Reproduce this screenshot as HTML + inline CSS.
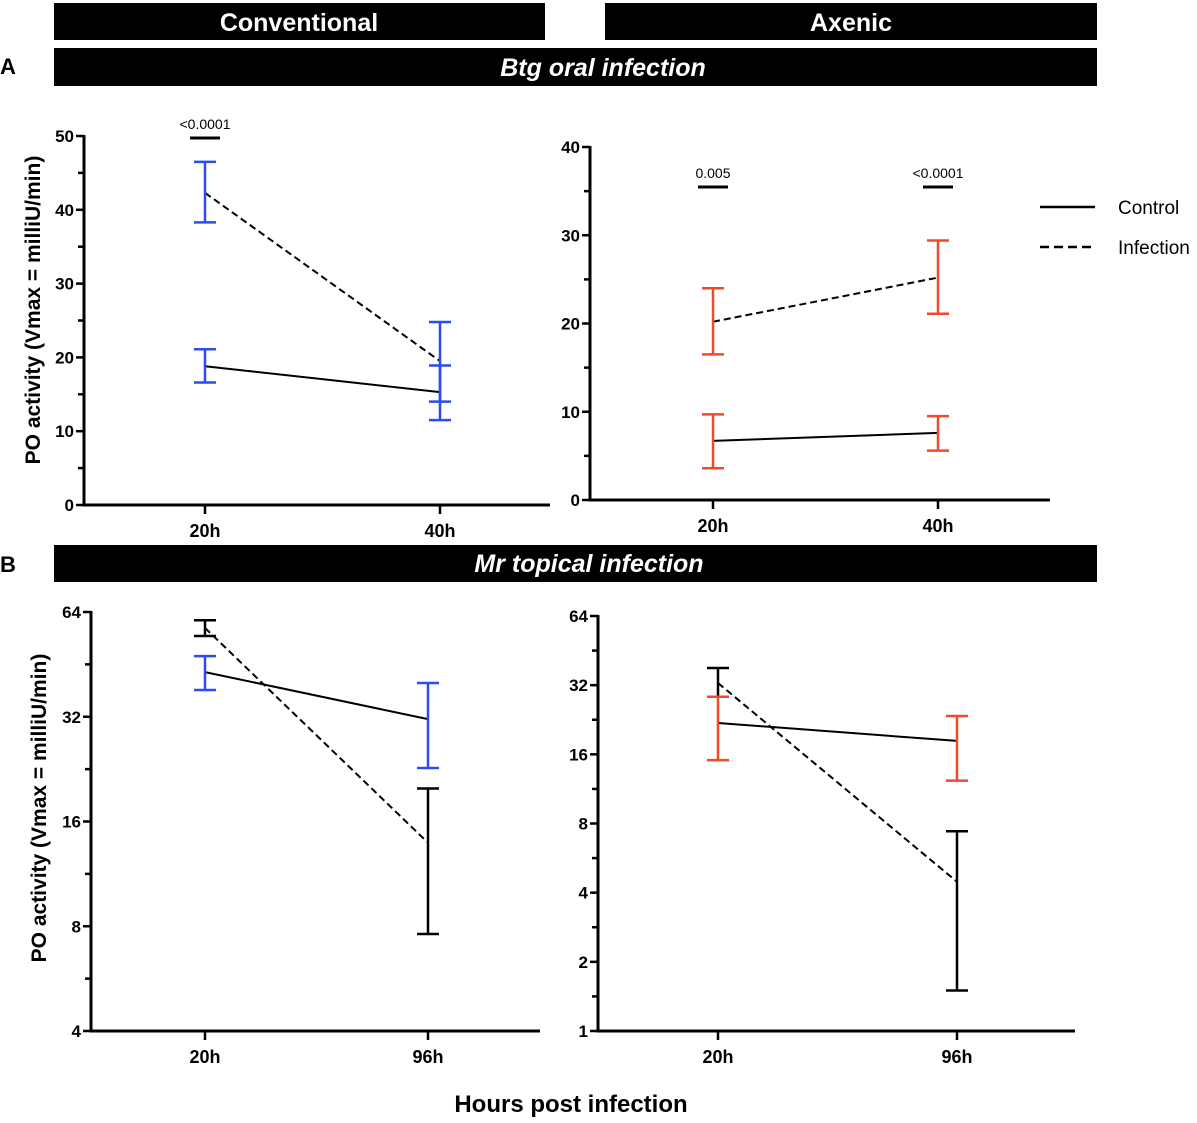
<!DOCTYPE html>
<html><head><meta charset="utf-8"><style>
body{margin:0;background:#fff;}
svg{display:block;font-family:"Liberation Sans",Arial,sans-serif;}
</style></head><body>
<svg id="fig" width="1197" height="1123" viewBox="0 0 1197 1123" xmlns="http://www.w3.org/2000/svg">
<g>
<rect x="54" y="3" width="491" height="37" fill="#000"/>
<text x="299" y="31" fill="#fff" font-size="25" font-weight="bold" text-anchor="middle">Conventional</text>
<rect x="605" y="3" width="492" height="37" fill="#000"/>
<text x="851" y="31" fill="#fff" font-size="25" font-weight="bold" text-anchor="middle">Axenic</text>
<rect x="54" y="48" width="1043" height="38" fill="#000"/>
<text x="603" y="76" fill="#fff" font-size="25" font-weight="bold" font-style="italic" text-anchor="middle">Btg oral infection</text>
<rect x="54" y="545" width="1043" height="37" fill="#000"/>
<text x="589" y="572" fill="#fff" font-size="25" font-weight="bold" font-style="italic" text-anchor="middle">Mr topical infection</text>
<text x="0" y="74" font-size="22" font-weight="bold">A</text>
<text x="0" y="572" font-size="22" font-weight="bold">B</text>
<text x="571" y="1112" font-size="24" font-weight="bold" text-anchor="middle">Hours post infection</text>
<text transform="translate(40,310) rotate(-90)" font-size="21" font-weight="bold" text-anchor="middle">PO activity (Vmax = milliU/min)</text>
<text transform="translate(46,808) rotate(-90)" font-size="21" font-weight="bold" text-anchor="middle">PO activity (Vmax = milliU/min)</text>
</g>
<g>
<line x1="1040" y1="207" x2="1095" y2="207" stroke="#000" stroke-width="2.5"/>
<text x="1118" y="214" font-size="19">Control</text>
<line x1="1040" y1="247" x2="1095" y2="247" stroke="#000" stroke-width="2.5" stroke-dasharray="9,5"/>
<text x="1118" y="254" font-size="19">Infection</text>
</g>
</svg>
<script>
// Panel A conventional
const aConvCats = ["20h","40h"];
const aConvCtrl = [18.8, 15.3];
const aConvCtrlLo = [16.6, 11.5];
const aConvCtrlHi = [21.1, 18.9];
const aConvInf = [42.3, 19.5];
const aConvInfLo = [38.3, 14.0];
const aConvInfHi = [46.5, 24.8];
const aConvTicks = [0,10,20,30,40,50];
// Panel A axenic
const aAxCats = ["20h","40h"];
const aAxCtrl = [6.7, 7.6];
const aAxCtrlLo = [3.6, 5.6];
const aAxCtrlHi = [9.7, 9.5];
const aAxInf = [20.2, 25.2];
const aAxInfLo = [16.5, 21.1];
const aAxInfHi = [24.0, 29.4];
const aAxTicks = [0,10,20,30,40];
// Panel B conventional
const bConvCats = ["20h","96h"];
const bConvCtrl = [43, 31.5];
const bConvCtrlLo = [38.2, 22.8];
const bConvCtrlHi = [47.8, 40];
const bConvInf = [57.6, 13.9];
const bConvInfLo = [54.6, 7.6];
const bConvInfHi = [60.6, 19.9];
const bConvTicks = [4,8,16,32,64];
// Panel B axenic
const bAxCats = ["20h","96h"];
const bAxCtrl = [21.9, 18.3];
const bAxCtrlLo = [15.1, 12.3];
const bAxCtrlHi = [28.5, 23.5];
const bAxInf = [32.7, 4.46];
const bAxInfLo = [28.5, 1.5];
const bAxInfHi = [38, 7.4];
const bAxTicks = [1,2,4,8,16,32,64];

const NS = "http://www.w3.org/2000/svg";
const fig = document.getElementById('fig');
function mk(tag, attrs, parent){const e=document.createElementNS(NS,tag);for(const k in attrs)e.setAttribute(k,attrs[k]);(parent||fig).appendChild(e);return e;}

function panel(cfg){
  const g = mk('g',{});
  
  
  const lo=cfg.ticks[0], hi=cfg.ticks[cfg.ticks.length-1];
  const y = cfg.log ? v => cfg.y0 - (Math.log2(v)-Math.log2(lo))/(Math.log2(hi)-Math.log2(lo))*(cfg.y0-cfg.y1)
                    : v => cfg.y0 - (v-lo)/(hi-lo)*(cfg.y0-cfg.y1);
  const x = i => cfg.xs[i];
  const ax = mk('line',{x1:cfg.ax,y1:cfg.y1-1,x2:cfg.ax,y2:cfg.y0+1.5,stroke:'#000','stroke-width':3},g);
  
  
  const bx = mk('line',{x1:cfg.ax-1.5,y1:cfg.y0,x2:cfg.xend,y2:cfg.y0,stroke:'#000','stroke-width':3},g);
  
  
  cfg.ticks.forEach((t,i)=>{
    mk('line',{x1:cfg.ax-8,y1:y(t),x2:cfg.ax,y2:y(t),stroke:'#000','stroke-width':2.5},g);
    const tl = mk('text',{x:cfg.ax-10,y:y(t)+6,'font-size':17,'font-weight':'bold','text-anchor':'end'},g);
    tl.textContent=t;
    
    
    if(i<cfg.ticks.length-1){
      const m = cfg.log ? Math.sqrt(t*cfg.ticks[i+1]) : (t+cfg.ticks[i+1])/2;
      mk('line',{x1:cfg.ax-6,y1:y(m),x2:cfg.ax,y2:y(m),stroke:'#000','stroke-width':2.5},g);
    }
  });
  cfg.cats.forEach((c,i)=>{
    mk('line',{x1:x(i),y1:cfg.y0,x2:x(i),y2:cfg.y0+9,stroke:'#000','stroke-width':2.5},g);
    const tl = mk('text',{x:x(i),y:cfg.y0+32,'font-size':18,'font-weight':'bold','text-anchor':'middle'},g);
    tl.textContent=c;
    
    
  });
  function series(vals,los,his,dash,errCol,name){
    const l = mk('line',{x1:x(0),y1:y(vals[0]),x2:x(1),y2:y(vals[1]),stroke:'#000','stroke-width':2}, g);
    if(dash) l.setAttribute('stroke-dasharray','7,4');
    
    
    vals.forEach((v,i)=>{
      const col = errCol[i];
      const eb = mk('g',{stroke:col,'stroke-width':2.5},g);
      
      
      mk('line',{x1:x(i),y1:y(los[i]),x2:x(i),y2:y(his[i])},eb);
      mk('line',{x1:x(i)-11,y1:y(los[i]),x2:x(i)+11,y2:y(los[i])},eb);
      mk('line',{x1:x(i)-11,y1:y(his[i]),x2:x(i)+11,y2:y(his[i])},eb);
    });
  }
  series(cfg.inf,cfg.infLo,cfg.infHi,true,cfg.infCol,'infection');
  series(cfg.ctrl,cfg.ctrlLo,cfg.ctrlHi,false,cfg.ctrlCol,'control');
  (cfg.sig||[]).forEach(s=>{
    mk('line',{x1:x(s.i)-15,y1:s.y,x2:x(s.i)+15,y2:s.y,stroke:'#000','stroke-width':3},g);
    const t = mk('text',{x:x(s.i),y:s.y-9,'font-size':14,'text-anchor':'middle'},g);
    t.textContent=s.label;
    
    
  });
}
const B='#2b4cf0', R='#f04a2b', K='#000';
panel({name:'panel-a-conventional',ax:84,y0:505,y1:136,xend:550,xs:[205,440],ticks:aConvTicks,log:false,cats:aConvCats,
  ctrl:aConvCtrl,ctrlLo:aConvCtrlLo,ctrlHi:aConvCtrlHi,inf:aConvInf,infLo:aConvInfLo,infHi:aConvInfHi,
  ctrlCol:[B,B],infCol:[B,B],sig:[{i:0,y:138,label:'<0.0001'}]});
panel({name:'panel-a-axenic',ax:590,y0:500,y1:147,xend:1050,xs:[713,938],ticks:aAxTicks,log:false,cats:aAxCats,
  ctrl:aAxCtrl,ctrlLo:aAxCtrlLo,ctrlHi:aAxCtrlHi,inf:aAxInf,infLo:aAxInfLo,infHi:aAxInfHi,
  ctrlCol:[R,R],infCol:[R,R],sig:[{i:0,y:187,label:'0.005'},{i:1,y:187,label:'<0.0001'}]});
panel({name:'panel-b-conventional',ax:91,y0:1031,y1:612,xend:540,xs:[205,428],ticks:bConvTicks,log:true,cats:bConvCats,
  ctrl:bConvCtrl,ctrlLo:bConvCtrlLo,ctrlHi:bConvCtrlHi,inf:bConvInf,infLo:bConvInfLo,infHi:bConvInfHi,
  ctrlCol:[B,B],infCol:[K,K]});
panel({name:'panel-b-axenic',ax:598,y0:1031,y1:616,xend:1075,xs:[718,957],ticks:bAxTicks,log:true,cats:bAxCats,
  ctrl:bAxCtrl,ctrlLo:bAxCtrlLo,ctrlHi:bAxCtrlHi,inf:bAxInf,infLo:bAxInfLo,infHi:bAxInfHi,
  ctrlCol:[R,R],infCol:[K,K]});
</script>
</body></html>
